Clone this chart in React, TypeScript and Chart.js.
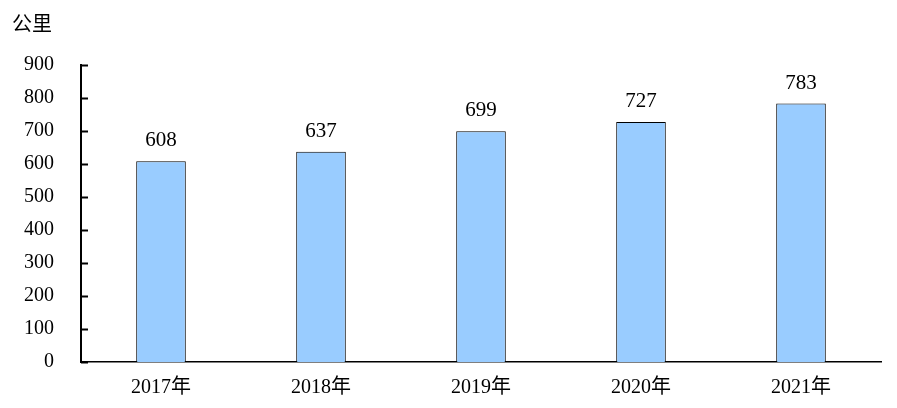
import React, { useEffect, useRef } from "react";
import { Chart, registerables } from "chart.js";

Chart.register(...registerables);

const categories = ["2017年", "2018年", "2019年", "2020年", "2021年"];
const values = [608, 637, 699, 727, 783];
const yTicks = [0, 100, 200, 300, 400, 500, 600, 700, 800, 900];
const unitLabel = "公里";

const FONT = '"Liberation Serif", "Noto Sans CJK SC", serif';

const decorPlugin = {
  id: "decor",
  afterDatasetsDraw(chart: any) {
    const ctx = chart.ctx;
    const y = chart.scales.y;
    const area = chart.chartArea;
    ctx.save();
    // inward tick marks on y axis
    ctx.strokeStyle = "#000";
    ctx.lineWidth = 2;
    yTicks.forEach((v) => {
      const py = Math.round(y.getPixelForValue(v)) + 0.5;
      ctx.beginPath();
      ctx.moveTo(area.left, py);
      ctx.lineTo(area.left + 7, py);
      ctx.stroke();
    });
    // value labels
    const meta = chart.getDatasetMeta(0);
    ctx.fillStyle = "#000";
    ctx.font = `21px ${FONT}`;
    ctx.textAlign = "center";
    ctx.textBaseline = "alphabetic";
    meta.data.forEach((bar: any, i: number) => {
      ctx.fillText(String(values[i]), bar.x, bar.y - 15);
    });
    // unit label
    ctx.font = `20px ${FONT}`;
    ctx.textAlign = "left";
    ctx.textBaseline = "middle";
    ctx.fillText(unitLabel, 12, 26);
    ctx.restore();
  },
};

export default function App() {
  const ref = useRef<HTMLCanvasElement>(null);
  useEffect(() => {
    if (!ref.current) return;
    const chart = new Chart(ref.current, {
      type: "bar",
      data: {
        labels: categories,
        datasets: [
          {
            data: values,
            backgroundColor: "#99CCFF",
            borderColor: "#000",
            borderWidth: 1,
            barPercentage: 0.62,
            categoryPercentage: 0.5,
          },
        ],
      },
      options: {
        animation: false,
        responsive: false,
        maintainAspectRatio: false,
        layout: { padding: { top: 65, right: 16, left: 0, bottom: 0 } },
        plugins: {
          legend: { display: false },
          tooltip: { enabled: false },
          title: { display: false },
        },
        scales: {
          x: {
            afterFit(scale: any) {
              scale.height = 46;
            },
            grid: { display: false, drawTicks: false },
            border: { display: true, color: "#000", width: 1.5 },
            ticks: {
              color: "#000",
              font: { family: FONT, size: 20 },
              padding: 14,
            },
          },
          y: {
            min: 0,
            max: 900,
            afterFit(scale: any) {
              scale.width = 81;
            },
            afterBuildTicks(scale: any) {
              scale.ticks = yTicks.map((v) => ({ value: v }));
            },
            grid: { display: false, drawTicks: false },
            border: { display: true, color: "#000", width: 2 },
            ticks: {
              color: "#000",
              font: { family: FONT, size: 20 },
              padding: 27,
            },
          },
        },
      },
      plugins: [decorPlugin],
    });
    return () => chart.destroy();
  }, []);
  return (
    <div style={{ position: "fixed", left: 0, top: 0, width: 897, height: 408, background: "#fff" }}>
      <canvas ref={ref} width={897} height={408} style={{ width: 897, height: 408 }} />
    </div>
  );
}
